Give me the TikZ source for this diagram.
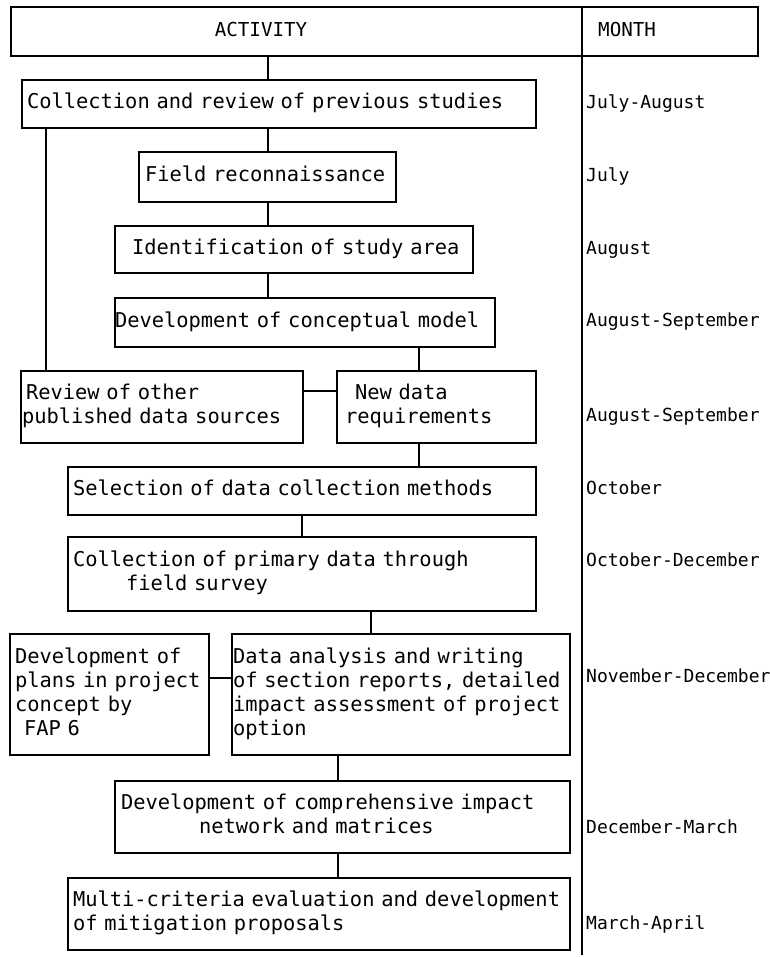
\documentclass[tikz,border=0pt]{standalone}
\usepackage{fontspec}
\newfontfamily\plotfont{DejaVu Sans Mono}
\newcommand\onerow[1]{\mbox{#1}}
\begin{document}
\begin{tikzpicture}[x=1pt,y=-1pt,
  box/.style={draw,line width=1.5pt,inner xsep=0pt,inner ysep=0pt,align=left,
    font=\plotfont\fontsize{20.4}{24}\selectfont,
    execute at begin node=\strut,execute at end node=\strut},
  link/.style={line width=1.3pt},
  mon/.style={anchor=west,inner sep=0pt,font=\plotfont\fontsize{18}{24}\selectfont,
    execute at begin node=\strut},
  hd/.style={inner sep=0pt,font=\plotfont\fontsize{19.2}{24}\selectfont,
    execute at begin node=\strut}]
\useasboundingbox (0,0) rectangle (769,957);
% header
\node[draw,line width=1.5pt,minimum width=747pt,minimum height=49pt,inner sep=0pt] (hdr) at (384.5,31.5) {};
\node[hd] (act) at (261,31.5) {ACTIVITY};
\node[hd,anchor=west] (mh) at (598,31.5) {MONTH};
\coordinate (dtop) at (582,7);
\coordinate (dbot) at (582,955);
\draw[link] (dtop) -- (dbot);
% boxes
\node[box,text width=514pt,minimum height=48pt] (b1) at (279,104) {\onerow{\hspace*{5pt}Collection and review of previous studies}};
\node[box,text width=257pt,minimum height=50pt] (b2) at (267.5,177) {\onerow{\hspace*{6pt}Field reconnaissance}};
\node[box,text width=358pt,minimum height=47pt] (b3) at (294,249.5) {\onerow{\hspace*{17pt}Identification of study area}};
\node[box,text width=380pt,minimum height=49pt] (b4) at (305,322.5) {\onerow{\hspace*{0pt}Development of conceptual model}};
\node[box,text width=282pt,minimum height=72pt] (rev) at (162,407) {\onerow{\hspace*{5pt}Review of other}\\\onerow{\hspace*{1pt}published data sources}};
\node[box,text width=199pt,minimum height=72pt] (nd) at (436.5,407) {\onerow{\hspace*{18pt}New data}\\\onerow{\hspace*{8pt}requirements}};
\node[box,text width=468pt,minimum height=48pt] (sel) at (302,491) {\onerow{\hspace*{5pt}Selection of data collection methods}};
\node[box,text width=468pt,minimum height=74pt] (col) at (302,574) {\onerow{\hspace*{5pt}Collection of primary data through}\\\onerow{\hspace*{58pt}field survey}};
\node[box,text width=199pt,minimum height=121pt] (dp) at (109.5,694.5) {\onerow{\hspace*{5pt}Development of}\\\onerow{\hspace*{5pt}plans in project}\\\onerow{\hspace*{5pt}concept by}\\\onerow{\hspace*{14pt}FAP 6}};
\node[box,text width=338pt,minimum height=121pt] (da) at (401,694.5) {\onerow{\hspace*{1pt}Data analysis and writing}\\\onerow{\hspace*{1pt}of section reports, detailed}\\\onerow{\hspace*{1pt}impact assessment of project}\\\onerow{\hspace*{1pt}option}};
\node[box,text width=455pt,minimum height=72pt] (dc) at (342.5,817) {\onerow{\hspace*{6pt}Development of comprehensive impact}\\\onerow{\hspace*{84pt}network and matrices}};
\node[box,text width=502pt,minimum height=72pt] (mc) at (319,914) {\onerow{\hspace*{5pt}Multi-criteria evaluation and development}\\\onerow{\hspace*{5pt}of mitigation proposals}};
% connectors
\coordinate (xa) at (268,0);
\coordinate (xl) at (46,0);
\coordinate (xb) at (419,0);
\coordinate (xc) at (302,0);
\coordinate (xd) at (371,0);
\coordinate (xe) at (338,0);
\coordinate (yr) at (0,391);
\coordinate (yp) at (0,678);
\draw[link] (hdr.south -| xa) -- (b1.north -| xa);
\draw[link] (b1.south -| xa) -- (b2.north -| xa);
\draw[link] (b2.south -| xa) -- (b3.north -| xa);
\draw[link] (b3.south -| xa) -- (b4.north -| xa);
\draw[link] (b1.south -| xl) -- (rev.north -| xl);
\draw[link] (b4.south -| xb) -- (nd.north -| xb);
\draw[link] (rev.east |- yr) -- (nd.west |- yr);
\draw[link] (nd.south -| xb) -- (sel.north -| xb);
\draw[link] (sel.south -| xc) -- (col.north -| xc);
\draw[link] (col.south -| xd) -- (da.north -| xd);
\draw[link] (dp.east |- yp) -- (da.west |- yp);
\draw[link] (da.south -| xe) -- (dc.north -| xe);
\draw[link] (dc.south -| xe) -- (mc.north -| xe);
% months
\node[mon] (m1) at (586,104) {July-August};
\node[mon] (m2) at (586,177) {July};
\node[mon] (m3) at (586,250) {August};
\node[mon] (m4) at (586,322) {August-September};
\node[mon] (m5) at (586,417) {August-September};
\node[mon] (m6) at (586,490) {October};
\node[mon] (m7) at (586,562) {October-December};
\node[mon] (m8) at (586,678) {November-December};
\node[mon] (m9) at (586,829) {December-March};
\node[mon] (m10) at (586,925) {March-April};
\end{tikzpicture}
\end{document}
